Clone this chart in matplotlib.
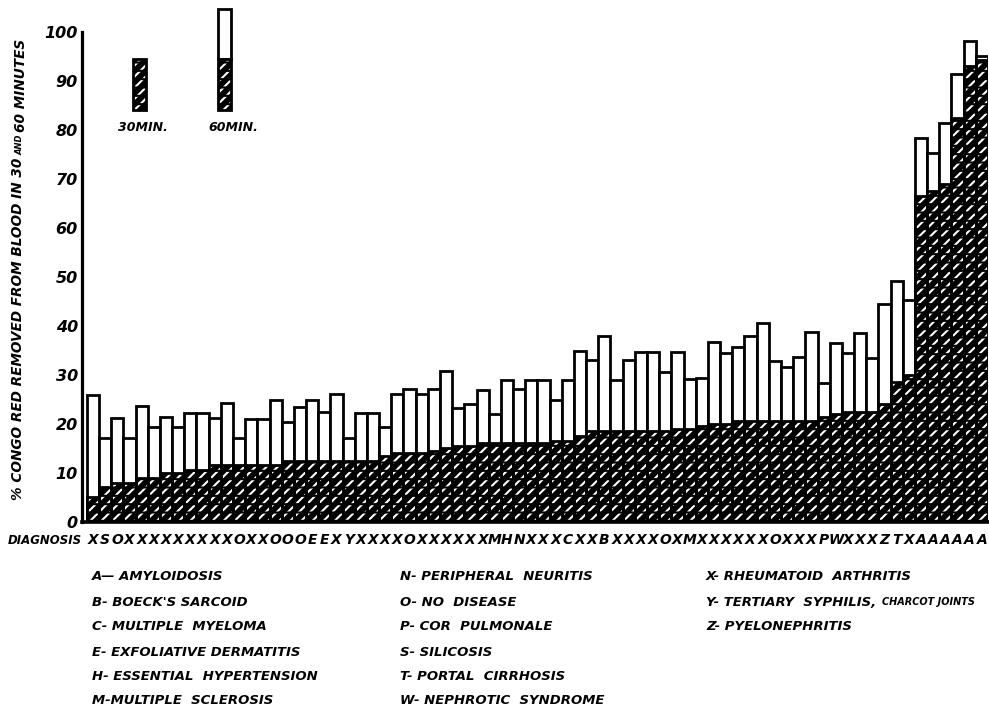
import matplotlib
matplotlib.use("Agg")
import matplotlib.pyplot as plt
from matplotlib.patches import Rectangle

# diagnosis letter under each bar, left to right
diagnosis = list("XSO" "XXXXXXXXX" "O" "XX" "OOO" "EE" "X" "Y" "XXXX" "O" "XXXXXX"
                 "MHN" "XXX" "C" "XX" "B" "XXXX" "O" "X" "M" "XXXXXX" "O" "XXX"
                 "PW" "XXX" "ZTX" "AAAAAA")

# % congo red removed at 60 minutes (total bar height)
min60 = [25.8, 17.1, 21.2, 17.1, 23.6, 19.3, 21.3, 19.3, 22.3, 22.3,
         21.2, 24.3, 17.2, 21.0, 21.0, 24.8, 20.4, 23.5, 24.8, 22.4,
         26.1, 17.2, 22.2, 22.2, 19.3, 26.0, 27.2, 26.1, 27.2, 30.8,
         23.2, 24.1, 27.0, 22.0, 29.0, 27.1, 28.9, 28.9, 24.8, 28.9,
         34.9, 33.1, 37.9, 28.9, 33.1, 34.7, 34.7, 30.6, 34.7, 29.1,
         29.4, 36.7, 34.5, 35.7, 37.9, 40.6, 32.8, 31.7, 33.7, 38.7,
         28.3, 36.5, 34.5, 38.5, 33.4, 44.5, 49.2, 45.3, 78.4, 75.3,
         81.4, 91.5, 98.3, 95.1]

# % removed at 30 minutes (hatched part)
min30 = [5, 7, 8, 8, 9, 9, 10, 10, 10.5, 10.5,
         11.5, 11.5, 11.5, 11.5, 11.5, 11.5, 12.5, 12.5, 12.5, 12.5,
         12.5, 12.5, 12.5, 12.5, 13.5, 14, 14, 14, 14.5, 15,
         15.5, 15.5, 16, 16, 16, 16, 16, 16, 16.5, 16.5,
         17.5, 18.5, 18.5, 18.5, 18.5, 18.5, 18.5, 18.5, 19, 19,
         19.5, 20, 20, 20.5, 20.5, 20.5, 20.5, 20.5, 20.5, 20.5,
         21.5, 22, 22.5, 22.5, 22.5, 24, 28.5, 30, 66.5, 67.5,
         69, 82.5, 93.2, 94.3]

yticks = [0, 10, 20, 30, 40, 50, 60, 70, 80, 90, 100]

key_col1 = ["A\u2014 AMYLOIDOSIS", "B- BOECK'S SARCOID", "C- MULTIPLE  MYELOMA",
            "E- EXFOLIATIVE DERMATITIS", "H- ESSENTIAL  HYPERTENSION", "M-MULTIPLE  SCLEROSIS"]
key_col2 = ["N- PERIPHERAL  NEURITIS", "O- NO  DISEASE", "P- COR  PULMONALE",
            "S- SILICOSIS", "T- PORTAL  CIRRHOSIS", "W- NEPHROTIC  SYNDROME"]
key_col3 = ["X- RHEUMATOID  ARTHRITIS", "Y- TERTIARY  SYPHILIS,", "Z- PYELONEPHRITIS"]

plt.rcParams["font.family"] = "DejaVu Sans"
plt.rcParams["hatch.linewidth"] = 1.5
hand = dict(fontweight="bold", fontstyle="italic")

fig = plt.figure(figsize=(9.89, 7.05), dpi=100)
ax = fig.add_axes([0.083, 0.26, 0.916, 0.694])

x = list(range(len(min60)))
lw = 2.0

# 60 min: open bars; 30 min: black with white slanted dashes
ax.bar(x, min60, width=1, color="white", edgecolor="black", linewidth=lw)
ax.bar(x, min30, width=1, color="black", edgecolor="white", hatch="///", linewidth=0)
ax.bar(x, min30, width=1, color="none", edgecolor="black", hatch="--", linewidth=0)
ax.bar(x, min30, width=1, fill=False, edgecolor="black", linewidth=lw)

ax.set_xlim(-0.89, 73.5)
ax.set_ylim(0, 100)
ax.set_yticks(yticks)
ax.set_yticklabels([str(t) for t in yticks], fontsize=11.5, **hand)
ax.set_xticks(x)
ax.set_xticklabels(diagnosis, fontsize=10, **hand)
ax.tick_params(axis="both", length=0)
ax.tick_params(axis="x", pad=8)
ax.tick_params(axis="y", pad=3)
for s in ["top", "right"]:
    ax.spines[s].set_visible(False)
ax.spines["left"].set_linewidth(2.3)
ax.spines["bottom"].set_linewidth(2.6)


def hatched(x0, y0, w, h):
    ax.add_patch(Rectangle((x0, y0), w, h, facecolor="black", edgecolor="white",
                           hatch="///", linewidth=0, clip_on=False))
    ax.add_patch(Rectangle((x0, y0), w, h, facecolor="none", edgecolor="black",
                           hatch="--", linewidth=0, clip_on=False))
    ax.add_patch(Rectangle((x0, y0), w, h, fill=False, edgecolor="black",
                           linewidth=lw, clip_on=False))


# legend keys
hatched(3.3, 84.2, 1.05, 10.3)
ax.add_patch(Rectangle((10.3, 94.5), 1.05, 10.2, facecolor="white", edgecolor="black",
                       linewidth=lw, clip_on=False))
hatched(10.3, 84.2, 1.05, 10.3)
ax.text(4.1, 80.5, "30MIN.", ha="center", va="center", fontsize=9, **hand)
ax.text(11.5, 80.5, "60MIN.", ha="center", va="center", fontsize=9, **hand)

# axis titles
fig.text(8 / 989, 1 - 541 / 705, "DIAGNOSIS", ha="left", va="center", fontsize=8.5, **hand)
yl = fig.text(18 / 989, 1 - 500 / 705, "% CONGO RED REMOVED FROM BLOOD IN 30",
              rotation=90, ha="center", va="bottom", fontsize=9.8, **hand)
yl2 = plt.annotate("AND", xy=(1, 1), xycoords=yl, xytext=(0, 2), textcoords="offset points",
                   rotation=90, ha="right", va="bottom", fontsize=6, **hand)
plt.annotate("60 MINUTES", xy=(0.5, 1), xycoords=yl2, xytext=(0, 2),
             textcoords="offset points", rotation=90, ha="center", va="bottom",
             fontsize=9.8, **hand)

# key to letters
rows = [577, 602, 627, 652, 677, 700]
for col, xpix in [(key_col1, 92), (key_col2, 400), (key_col3, 706)]:
    for i, s in enumerate(col):
        t = fig.text(xpix / 989, 1 - rows[i] / 705, s, ha="left", va="center",
                     fontsize=9.5, **hand)
        if s.startswith("Y-"):
            plt.annotate("CHARCOT JOINTS", xy=(1, 0.5), xycoords=t, xytext=(4, 0),
                         textcoords="offset points", ha="left", va="center",
                         fontsize=7, **hand)

fig.savefig("out.png", dpi=100)
